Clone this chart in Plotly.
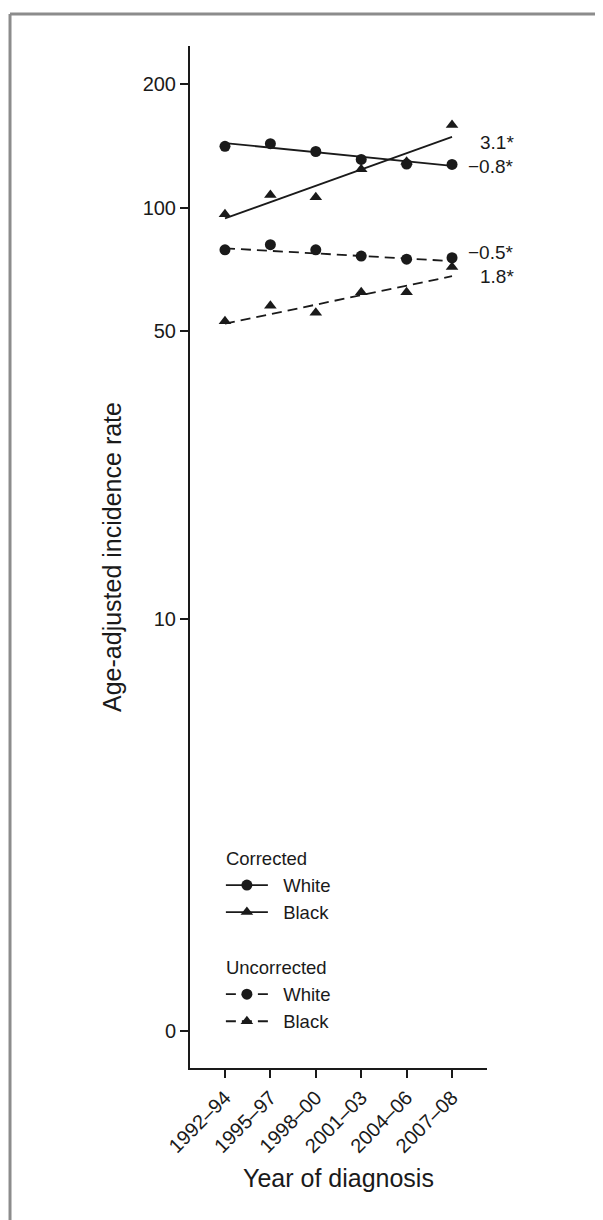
import math
import plotly.graph_objects as go

periods = ["1992–94", "1995–97", "1998–00", "2001–03", "2004–06", "2007–08"]

# Observed age-adjusted incidence rates
corr_white = [140.8, 142.9, 136.8, 130.9, 127.5, 127.3]
corr_black = [96.3, 107.3, 105.9, 123.9, 129.2, 158.6]
unc_white = [78.9, 81.2, 78.9, 76.2, 74.9, 75.5]
unc_black = [52.9, 57.7, 55.5, 62.2, 62.2, 71.7]

# Fitted trend lines (first and last period values)
trend_periods = [periods[0], periods[-1]]
corr_white_fit = [143.4, 126.3]
corr_black_fit = [94.1, 148.4]
unc_white_fit = [79.6, 74.1]
unc_black_fit = [52.2, 68.1]

# Annual percent change labels
apc_labels = ["3.1*", "−0.8*", "−0.5*", "1.8*"]
apc_label_y = [143.5, 126.1, 77.6, 68.0]

y_tickvals = [1, 10, 50, 100, 200]
y_ticktext = ["0", "10", "50", "100", "200"]

FONT = "Liberation Sans, Arial, Helvetica, sans-serif"
BLACK = "#1a1a1a"
NB = "\u00a0\u00a0"

fig = go.Figure()

idx = list(range(len(periods)))
x_of = {p: i for i, p in enumerate(periods)}
tx = [x_of[p] for p in trend_periods]

def add_series(name, group, obs, fit, symbol, dash):
    fig.add_trace(go.Scatter(
        x=tx, y=fit, mode="lines",
        line=dict(color=BLACK, width=1.8, dash=dash),
        showlegend=False, legendgroup=group, hoverinfo="skip"))
    fig.add_trace(go.Scatter(
        x=idx, y=obs, mode="markers",
        marker=dict(symbol=symbol, size=11, color=BLACK),
        showlegend=False, legendgroup=group, name=name))
    # legend entry
    fig.add_trace(go.Scatter(
        x=[None], y=[None], mode="lines+markers", name=NB + name,
        line=dict(color=BLACK, width=1.8, dash=dash),
        marker=dict(symbol=symbol, size=11, color=BLACK),
        legendgroup=group,
        legendgrouptitle=dict(text=group, font=dict(size=18.5, color=BLACK, family=FONT))))

add_series("White", "Corrected", corr_white, corr_white_fit, "circle", "solid")
add_series("Black", "Corrected", corr_black, corr_black_fit, "triangle-up", "solid")
add_series("White", "Uncorrected", unc_white, unc_white_fit, "circle", "10px,6px")
add_series("Black", "Uncorrected", unc_black, unc_black_fit, "triangle-up", "10px,6px")

for txt, yv in zip(apc_labels, apc_label_y):
    fig.add_annotation(x=5, y=math.log10(yv), xref="x", yref="y", text=txt,
                       showarrow=False, xanchor="right", xshift=63, yanchor="middle",
                       borderpad=0,
                       font=dict(size=19, color=BLACK, family=FONT))

# outer gray frame (top and left edges)
fig.add_shape(type="line", xref="paper", yref="paper", x0=-0.606, x1=1.40,
              y0=1.0313, y1=1.0313, line=dict(color="#8c8c8c", width=3))
fig.add_shape(type="line", xref="paper", yref="paper", x0=-0.606, x1=-0.606,
              y0=1.0313, y1=-0.16, line=dict(color="#8c8c8c", width=3))

fig.update_layout(
    width=595, height=1212,
    margin=dict(l=182, r=116, t=38, b=152),
    paper_bgcolor="white", plot_bgcolor="white",
    font=dict(family=FONT, size=20, color=BLACK),
    showlegend=True,
    legend=dict(x=0.104, y=0.2236, xanchor="left", yanchor="top",
                bgcolor="rgba(0,0,0,0)", font=dict(size=18.5, family=FONT, color=BLACK),
                tracegroupgap=28, itemwidth=42, traceorder="grouped"),
    xaxis=dict(range=[-0.77, 5.77], tickvals=idx, ticktext=periods, tickangle=-45,
               showline=True, linecolor=BLACK, linewidth=2, ticks="outside",
               ticklen=8, tickwidth=2, tickcolor=BLACK, showgrid=False, zeroline=False,
               tickfont=dict(size=20, family=FONT, color=BLACK),
               title=dict(text="Year of diagnosis", font=dict(size=25, family=FONT, color=BLACK),
                          standoff=14)),
    yaxis=dict(type="log", range=[-0.0911, 2.3925], tickvals=y_tickvals, ticktext=y_ticktext,
               showline=True, linecolor=BLACK, linewidth=2, ticks="outside",
               ticklen=8, tickwidth=2, tickcolor=BLACK, showgrid=False, zeroline=False,
               tickfont=dict(size=20, family=FONT, color=BLACK),
               title=dict(text="Age-adjusted incidence rate",
                          font=dict(size=25, family=FONT, color=BLACK), standoff=14)),
)

fig.write_html("out.html")
